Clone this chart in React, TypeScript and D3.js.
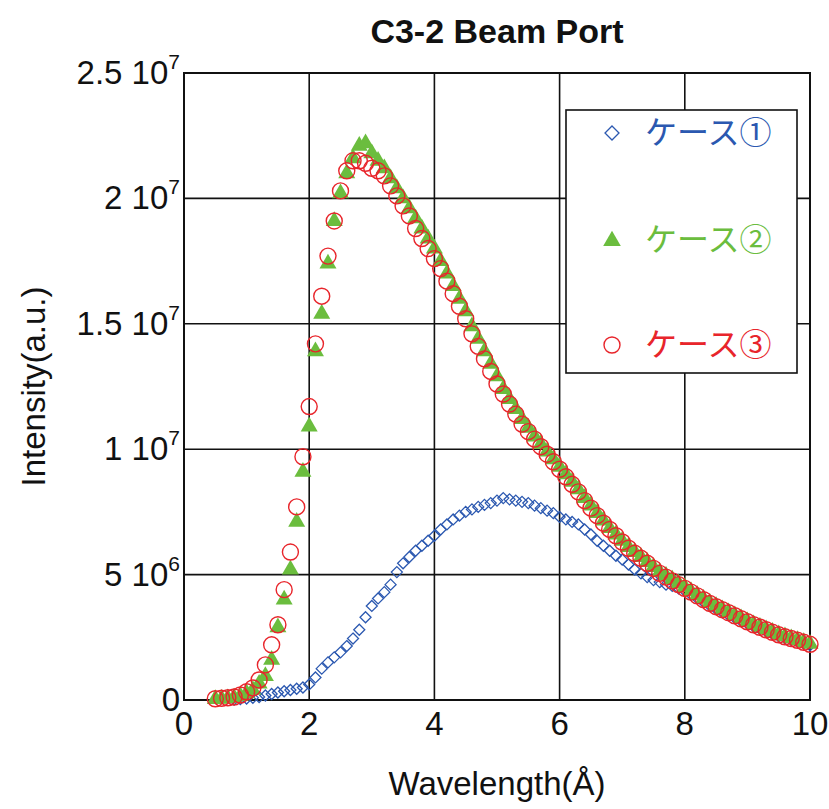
import React from 'react';
import * as d3 from 'd3';

// Wavelength (Å) sample positions
const wavelength = [
  0.5, 0.6, 0.7, 0.8, 0.9, 1.0, 1.1, 1.2, 1.3, 1.4,
  1.5, 1.6, 1.7, 1.8, 1.9, 2.0, 2.1, 2.2, 2.3, 2.4,
  2.5, 2.6, 2.7, 2.8, 2.9, 3.0, 3.1, 3.2, 3.3, 3.4,
  3.5, 3.6, 3.7, 3.8, 3.9, 4.0, 4.1, 4.2, 4.3, 4.4,
  4.5, 4.6, 4.7, 4.8, 4.9, 5.0, 5.1, 5.2, 5.3, 5.4,
  5.5, 5.6, 5.7, 5.8, 5.9, 6.0, 6.1, 6.2, 6.3, 6.4,
  6.5, 6.6, 6.7, 6.8, 6.9, 7.0, 7.1, 7.2, 7.3, 7.4,
  7.5, 7.6, 7.7, 7.8, 7.9, 8.0, 8.1, 8.2, 8.3, 8.4,
  8.5, 8.6, 8.7, 8.8, 8.9, 9.0, 9.1, 9.2, 9.3, 9.4,
  9.5, 9.6, 9.7, 9.8, 9.9, 10.0,
];

// Intensities in units of 1e6 (a.u.)
const UNIT = 1e6;

const case1: (number | null)[] = [
  null, null, null, 0.02, 0.04, 0.06, 0.09, 0.12, 0.18, 0.24,
  0.3, 0.35, 0.4, 0.45, 0.5, 0.62, 0.9, 1.25, 1.5, 1.7,
  1.9, 2.15, 2.45, 2.8, 3.3, 3.75, 4.05, 4.3, 4.6, 5.1,
  5.45, 5.7, 5.95, 6.15, 6.35, 6.55, 6.8, 7.0, 7.2, 7.35,
  7.5, 7.6, 7.7, 7.78, 7.85, 7.95, 8.05, 8.0, 7.95, 7.9,
  7.85, 7.75, 7.65, 7.55, 7.45, 7.3, 7.2, 7.1, 7.0, 6.8,
  6.6, 6.35, 6.15, 5.95, 5.75, 5.6, 5.4, 5.2, 5.05, 4.9,
  4.78, 4.7, 4.6, 4.55, 4.45, 4.35, 4.2, 4.05, 3.9, 3.76,
  3.63, 3.5, 3.38, 3.27, 3.15, 3.04, 2.93, 2.83, 2.73, 2.63,
  2.54, 2.46, 2.39, 2.32, 2.25, 2.18,
];

const case2 = [
  0.04, 0.05, 0.07, 0.1, 0.16, 0.27, 0.4, 0.65, 0.95, 1.6,
  2.9, 4.0, 5.2, 7.1, 9.1, 10.9, 13.9, 15.4, 17.4, 19.1,
  20.2, 21.0, 21.6, 22.1, 22.2, 21.8, 21.5, 21.2, 20.8, 20.4,
  20.0, 19.6, 19.2, 18.8, 18.4, 18.0, 17.5, 17.0, 16.5, 16.0,
  15.5, 14.9, 14.4, 13.9, 13.4, 12.9, 12.4, 12.0, 11.6, 11.2,
  10.85, 10.5, 10.2, 9.9, 9.6, 9.3, 9.0, 8.7, 8.4, 8.05,
  7.75, 7.45, 7.15, 6.85, 6.6, 6.35, 6.1, 5.9, 5.7, 5.5,
  5.3, 5.1, 4.95, 4.8, 4.65, 4.5, 4.33, 4.18, 4.03, 3.88,
  3.75, 3.62, 3.5, 3.38, 3.26, 3.14, 3.02, 2.92, 2.82, 2.72,
  2.62, 2.54, 2.46, 2.39, 2.31, 2.24,
];

const case3 = [
  0.05, 0.07, 0.09, 0.12, 0.2, 0.33, 0.48, 0.8, 1.4, 2.2,
  3.0, 4.4, 5.9, 7.7, 9.7, 11.7, 14.2, 16.1, 17.7, 19.1,
  20.3, 21.1, 21.5, 21.5, 21.4, 21.2, 21.1, 20.9, 20.5, 20.1,
  19.7, 19.3, 18.8, 18.4, 18.0, 17.6, 17.2, 16.7, 16.2, 15.7,
  15.2, 14.6, 14.1, 13.6, 13.1, 12.6, 12.2, 11.8, 11.4, 11.0,
  10.7, 10.4, 10.1, 9.8, 9.5, 9.2, 8.9, 8.6, 8.3, 7.95,
  7.65, 7.35, 7.05, 6.8, 6.55, 6.3, 6.05, 5.85, 5.65, 5.45,
  5.25, 5.05, 4.9, 4.75, 4.6, 4.45, 4.3, 4.15, 4.0, 3.85,
  3.72, 3.6, 3.48, 3.36, 3.24, 3.12, 3.0, 2.9, 2.8, 2.7,
  2.6, 2.52, 2.45, 2.38, 2.3, 2.22,
];

const seriesNames = ['ケース①', 'ケース②', 'ケース③'];
const seriesColors = ['#2b58b0', '#6bbd3e', '#e8252b'];

const xTicks = [0, 2, 4, 6, 8, 10];
const yTickValues = [0, 5e6, 1e7, 1.5e7, 2e7, 2.5e7];
const yTickMantissa = ['0', '5', '1', '1.5', '2', '2.5'];
const yTickExponent = ['', '6', '7', '7', '7', '7'];

const title = 'C3-2 Beam Port';
const xLabel = 'Wavelength(Å)';
const yLabel = 'Intensity(a.u.)';

const W = 829;
const H = 809;
const M = { left: 184, right: 19, top: 73, bottom: 109 };
const FONT = '"Liberation Sans", Arial, Helvetica, sans-serif';
const CJK = '"Noto Sans CJK JP", "Noto Sans", sans-serif';

export default function App() {
  const x = d3.scaleLinear().domain([0, 10]).range([M.left, W - M.right]);
  const y = d3.scaleLinear().domain([0, 2.5e7]).range([H - M.bottom, M.top]);

  const triPath = d3.symbol().type(d3.symbolTriangle).size(125)() as string;
  const legTriPath = d3.symbol().type(d3.symbolTriangle).size(135)() as string;
  const diamond = (s: number) => `M0,${-s}L${s},0L0,${s}L${-s},0Z`;

  const pts = (vals: (number | null)[]) =>
    wavelength
      .map((w, i) => ({ w, v: vals[i] }))
      .filter((d) => d.v !== null && d.v !== undefined) as { w: number; v: number }[];

  const x0 = x.range()[0];
  const x1 = x.range()[1];
  const y0 = y.range()[0];
  const y1 = y.range()[1];

  const legendRows = [133, 240, 345];

  return (
    <svg
      width={W}
      height={H}
      style={{ position: 'absolute', left: 0, top: 0, background: '#fff' }}
      fontFamily={FONT}
    >
      <rect x={0} y={0} width={W} height={H} fill="#fff" />
      <defs>
        <clipPath id="plot">
          <rect x={x0 - 10} y={y1 - 10} width={x1 - x0 + 20} height={y0 - y1 + 20} />
        </clipPath>
      </defs>

      {/* grid */}
      {xTicks.map((t) => (
        <line key={'gx' + t} x1={x(t)} x2={x(t)} y1={y0} y2={y1} stroke="#111" strokeWidth={1.6} />
      ))}
      {yTickValues.map((t) => (
        <line key={'gy' + t} x1={x0} x2={x1} y1={y(t)} y2={y(t)} stroke="#111" strokeWidth={1.6} />
      ))}
      <rect x={x0} y={y1} width={x1 - x0} height={y0 - y1} fill="none" stroke="#111" strokeWidth={2} />

      {/* data */}
      <g clipPath="url(#plot)">
        {pts(case1).map((d, i) => (
          <path
            key={'c1' + i}
            d={diamond(5.5)}
            transform={`translate(${x(d.w)},${y(d.v * UNIT)})`}
            fill="none"
            stroke={seriesColors[0]}
            strokeWidth={1.3}
          />
        ))}
        {pts(case2).map((d, i) => (
          <path
            key={'c2' + i}
            d={triPath}
            transform={`translate(${x(d.w)},${y(d.v * UNIT)})`}
            fill={seriesColors[1]}
          />
        ))}
        {pts(case3).map((d, i) => (
          <circle
            key={'c3' + i}
            cx={x(d.w)}
            cy={y(d.v * UNIT)}
            r={8}
            fill="none"
            stroke={seriesColors[2]}
            strokeWidth={1.4}
          />
        ))}
      </g>

      {/* x tick labels */}
      {xTicks.map((t) => (
        <text key={'tx' + t} x={x(t)} y={y0 + 35} textAnchor="middle" fontSize={33} fill="#111">
          {t}
        </text>
      ))}

      {/* y tick labels */}
      {yTickValues.map((t, i) => (
        <text
          key={'ty' + t}
          x={x0 - 4}
          y={y(t) + 11}
          textAnchor="end"
          fontSize={33}
          fill="#111"
        >
          {yTickMantissa[i]}
          {yTickExponent[i] ? ' 10' : ''}
          {yTickExponent[i] ? (
            <tspan dy={-15} fontSize={21}>
              {yTickExponent[i]}
            </tspan>
          ) : null}
        </text>
      ))}

      {/* title and axis labels */}
      <text x={(x0 + x1) / 2} y={43} textAnchor="middle" fontSize={34} fontWeight="bold" fill="#111">
        {title}
      </text>
      <text x={(x0 + x1) / 2} y={795} textAnchor="middle" fontSize={33} fill="#111">
        {xLabel}
      </text>
      <text
        transform={`translate(45,${(y0 + y1) / 2}) rotate(-90)`}
        textAnchor="middle"
        fontSize={33}
        fill="#111"
      >
        {yLabel}
      </text>

      {/* legend */}
      <rect x={566} y={110} width={231} height={263} fill="#fff" stroke="#111" strokeWidth={1.6} />
      <path
        d={diamond(7)}
        transform={`translate(612,${legendRows[0]})`}
        fill="none"
        stroke={seriesColors[0]}
        strokeWidth={1.3}
      />
      <path d={legTriPath} transform={`translate(612,${legendRows[1] + 1})`} fill={seriesColors[1]} />
      <circle cx={612} cy={legendRows[2]} r={8} fill="none" stroke={seriesColors[2]} strokeWidth={1.4} />
      {seriesNames.map((n, i) => (
        <text
          key={n}
          x={645}
          y={legendRows[i] + 11}
          fontFamily={CJK}
          fontSize={32}
          fill={seriesColors[i]}
        >
          {n}
        </text>
      ))}
    </svg>
  );
}
